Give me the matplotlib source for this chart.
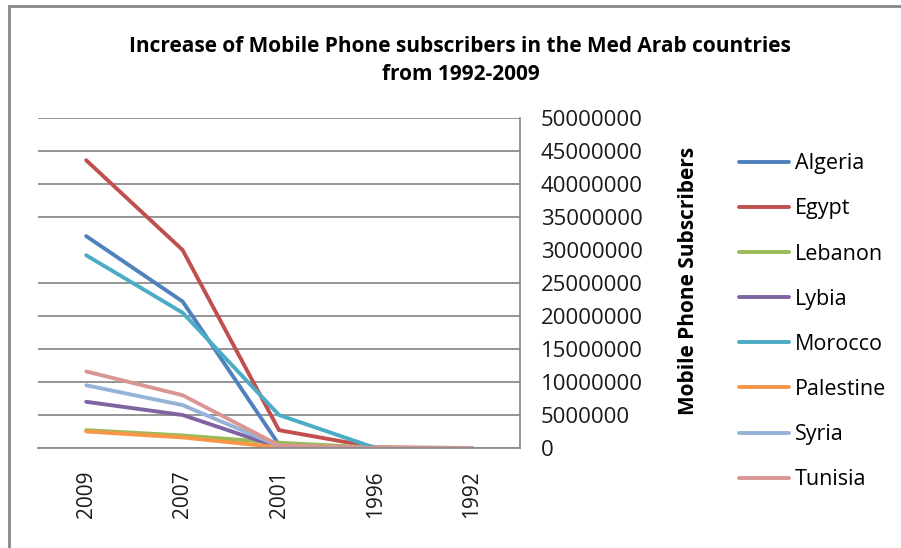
import matplotlib
matplotlib.use("Agg")
import matplotlib.pyplot as plt
from matplotlib.patches import Rectangle
import numpy as np

plt.rcParams['font.family'] = ['Open Sans', 'DejaVu Sans']

# subscribers per year, newest first
years = ['2009', '2007', '2001', '1996', '1992']
countries = ['Algeria', 'Egypt', 'Lebanon', 'Lybia', 'Morocco',
             'Palestine', 'Syria', 'Tunisia']
algeria = [32100000, 22200000, 500000, 0, 0]
egypt = [43600000, 30000000, 2700000, 100000, 0]
lebanon = [2700000, 1900000, 800000, 50000, 0]
lybia = [7000000, 5000000, 100000, 0, 0]
morocco = [29200000, 20500000, 5000000, 10000, 0]
palestine = [2500000, 1600000, 100000, 0, 0]
syria = [9500000, 6500000, 300000, 0, 0]
tunisia = [11600000, 8000000, 400000, 0, 0]
series = [algeria, egypt, lebanon, lybia, morocco, palestine, syria, tunisia]
colors = ['#4F81BD', '#C0504D', '#9BBB59', '#8064A2', '#4BACC6',
          '#F79646', '#95B3D7', '#D99694']

fig = plt.figure(figsize=(9.01, 5.48), dpi=100)
ax = fig.add_axes([38 / 901, 1 - 448 / 548, (520 - 38) / 901, (448 - 118) / 548])

x = np.arange(len(years))
for name, vals, c in zip(countries, series, colors):
    ax.plot(x, vals, color=c, lw=2.8, label=name, solid_capstyle='round')

ax.set_xlim(-0.5, len(years) - 0.5)
ax.set_ylim(0, 50000000)
ax.set_yticks(np.arange(0, 50000001, 5000000))
ax.set_yticklabels([str(v) for v in range(0, 50000001, 5000000)])
ax.set_xticks(x)
ax.set_xticklabels(years, rotation=90)

ax.yaxis.tick_right()
ax.yaxis.set_label_position('right')
ax.tick_params(axis='y', length=0, pad=15, labelsize=16, colors='#1a1a1a')
ax.tick_params(axis='x', length=0, pad=16, labelsize=15, colors='#1a1a1a')

ax.yaxis.grid(True, color='#8c8c8c', lw=1.3)
ax.get_ygridlines()[6].set_visible(False)
ax.set_axisbelow(True)
for s in ['top', 'left']:
    ax.spines[s].set_visible(False)
for s in ['right', 'bottom']:
    ax.spines[s].set_color('#8c8c8c')
    ax.spines[s].set_linewidth(1.3)

ax.set_ylabel('Mobile Phone Subscribers', fontsize=15, fontweight='bold')
ax.yaxis.set_label_coords((678 - 38) / 482, 0.505)

fig.text(0.511, 1 - 46 / 548,
         'Increase of Mobile Phone subscribers in the Med Arab countries',
         ha='center', va='center', fontsize=15, fontweight='bold')
fig.text(0.511, 1 - 74 / 548, 'from 1992-2009',
         ha='center', va='center', fontsize=15, fontweight='bold')

fig.legend(loc='upper left', bbox_to_anchor=(720 / 901, 1 - 134 / 548),
           frameon=False, fontsize=15.5, handlelength=2.3, handletextpad=0.28,
           labelspacing=1.12)

# chart area border
fig.patches.append(Rectangle((9 / 901, -0.1), 1.2, 1 - 6 / 548 + 0.1,
                             transform=fig.transFigure, fill=False,
                             edgecolor='#888888', lw=2))

fig.savefig('out.png', dpi=100)
